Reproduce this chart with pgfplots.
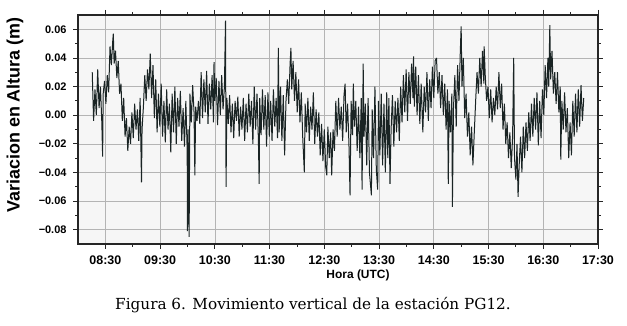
\documentclass[border=0pt]{standalone}
\usepackage{fontspec}
\setmainfont{Liberation Sans}
\newfontfamily\capfont{DejaVu Serif}
\usepackage{pgfplots}
\pgfplotsset{compat=1.18}

\definecolor{trace}{HTML}{1A2424}
\definecolor{plotbg}{HTML}{F6F6F6}
\definecolor{gridc}{HTML}{B4B4B4}

\begin{document}
\begin{tikzpicture}
\useasboundingbox (0,0) rectangle (627bp,326bp);
\begin{axis}[
    at={(78bp,82bp)}, anchor=south west,
    scale only axis, width=520bp, height=229bp,
    xmin=8, xmax=17.5, ymin=-0.09, ymax=0.07,
    scaled y ticks=false, scaled x ticks=false,
    xtick={8.5,9.5,10.5,11.5,12.5,13.5,14.5,15.5,16.5,17.5},
    xticklabels={08:30,09:30,10:30,11:30,12:30,13:30,14:30,15:30,16:30,17:30},
    ytick={-0.08,-0.06,-0.04,-0.02,0,0.02,0.04,0.06},
    yticklabels={−0.08,−0.06,−0.04,−0.02,0.00,0.02,0.04,0.06},
    minor x tick num=1, minor y tick num=1,
    tick align=outside, tick pos=both,
    major tick length=5bp, minor tick length=3bp,
    every tick/.style={black!85, line width=0.8bp},
    axis line style={black!85, line width=1.3bp},
    grid=major, grid style={gridc, line width=0.6bp},
    axis background/.style={fill=plotbg},
    xticklabel style={font=\bfseries\fontsize{12.5}{14}\selectfont, yshift=-3bp},
    yticklabel style={font=\bfseries\fontsize{11}{12}\selectfont, xshift=-3bp},
]
\addplot[trace, line width=1.0bp, line join=bevel, no marks] coordinates {
(8.26,0.030)(8.285,-0.004)(8.31,0.018)(8.335,0.000)(8.36,0.032)(8.385,0.005)(8.41,0.020)(8.435,-0.005)
(8.45,-0.029)(8.46,0.015)(8.485,0.024)(8.51,0.008)(8.535,0.028)(8.56,0.016)(8.585,0.048)(8.61,0.035)
(8.635,0.052)(8.645,0.057)(8.66,0.036)(8.685,0.045)(8.71,0.026)(8.735,0.038)(8.76,0.015)(8.785,0.022)
(8.81,-0.004)(8.835,0.012)(8.86,-0.015)(8.885,-0.002)(8.91,-0.025)(8.935,-0.008)(8.96,-0.020)(8.985,0.002)
(9.01,-0.016)(9.035,0.008)(9.06,-0.010)(9.085,0.004)(9.11,-0.018)(9.135,0.012)(9.16,-0.047)(9.17,-0.010)
(9.195,0.006)(9.22,0.028)(9.245,0.010)(9.27,0.032)(9.295,0.018)(9.32,0.043)(9.345,0.012)(9.37,0.035)
(9.395,-0.002)(9.42,0.025)(9.445,-0.012)(9.47,0.015)(9.495,-0.008)(9.52,0.022)(9.545,-0.015)(9.57,0.010)
(9.595,-0.019)(9.62,0.018)(9.645,-0.010)(9.67,0.008)(9.695,-0.026)(9.72,0.015)(9.745,-0.012)(9.77,0.020)
(9.795,-0.020)(9.82,0.012)(9.845,-0.008)(9.87,0.017)(9.895,-0.018)(9.92,0.005)(9.945,-0.022)(9.97,0.010)
(9.995,-0.025)(10.0,-0.081)(10.012,-0.010)(10.03,-0.085)(10.045,0.015)(10.07,-0.005)(10.095,0.021)(10.12,0.002)
(10.135,-0.042)(10.15,0.006)(10.175,-0.004)(10.2,0.010)(10.225,-0.006)(10.25,0.030)(10.275,-0.002)(10.3,0.025)
(10.325,0.002)(10.35,0.031)(10.375,-0.006)(10.4,0.022)(10.425,0.004)(10.45,0.028)(10.475,-0.005)(10.485,0.037)
(10.5,0.010)(10.525,0.026)(10.55,-0.007)(10.575,0.024)(10.6,0.000)(10.625,0.028)(10.65,0.004)(10.675,0.020)
(10.695,0.066)(10.705,-0.050)(10.72,0.012)(10.745,-0.006)(10.77,0.014)(10.795,-0.012)(10.82,0.008)(10.845,-0.016)
(10.87,0.010)(10.895,-0.004)(10.92,0.013)(10.945,-0.015)(10.97,0.006)(10.995,-0.010)(11.02,0.012)(11.045,-0.018)
(11.07,0.008)(11.095,-0.012)(11.12,0.015)(11.145,-0.008)(11.17,0.010)(11.195,-0.020)(11.22,0.020)(11.245,-0.010)
(11.27,0.015)(11.295,-0.016)(11.31,-0.048)(11.32,0.012)(11.345,-0.014)(11.37,0.018)(11.395,-0.010)(11.42,0.014)
(11.445,-0.022)(11.47,0.016)(11.495,-0.015)(11.52,0.010)(11.545,-0.018)(11.57,0.018)(11.595,-0.008)(11.62,0.012)
(11.645,-0.016)(11.66,0.047)(11.675,-0.012)(11.7,0.020)(11.725,-0.018)(11.75,0.014)(11.775,-0.028)(11.8,0.010)
(11.825,0.025)(11.85,0.008)(11.875,0.036)(11.89,0.047)(11.905,0.018)(11.93,0.038)(11.955,0.010)(11.98,0.030)
(12.005,0.002)(12.03,0.025)(12.055,-0.005)(12.08,0.016)(12.105,-0.015)(12.135,-0.040)(12.15,0.008)(12.175,-0.012)
(12.2,0.012)(12.225,-0.018)(12.25,0.006)(12.275,-0.010)(12.3,0.016)(12.325,-0.020)(12.35,0.004)(12.375,-0.015)
(12.4,0.002)(12.425,-0.028)(12.45,-0.006)(12.475,-0.032)(12.5,-0.010)(12.525,-0.036)(12.545,-0.042)(12.565,-0.008)
(12.59,-0.030)(12.615,-0.012)(12.635,-0.042)(12.66,-0.010)(12.685,-0.025)(12.71,0.010)(12.735,-0.015)(12.76,0.012)
(12.785,-0.010)(12.81,0.006)(12.835,-0.018)(12.86,0.014)(12.88,0.022)(12.9,-0.012)(12.925,0.008)(12.95,-0.020)
(12.97,-0.056)(12.99,0.010)(13.015,-0.014)(13.03,0.022)(13.05,-0.008)(13.075,0.010)(13.1,-0.025)(13.125,0.006)
(13.15,-0.030)(13.175,0.012)(13.19,-0.052)(13.21,0.036)(13.225,-0.015)(13.25,0.008)(13.275,-0.035)(13.3,0.012)
(13.325,-0.040)(13.36,-0.056)(13.375,0.004)(13.4,-0.030)(13.425,0.020)(13.45,-0.038)(13.475,-0.052)(13.49,0.010)
(13.515,-0.028)(13.54,0.015)(13.565,-0.035)(13.59,0.008)(13.615,-0.040)(13.64,0.016)(13.66,-0.030)(13.68,0.012)
(13.7,-0.048)(13.72,-0.010)(13.745,0.014)(13.77,-0.022)(13.795,0.010)(13.82,-0.012)(13.845,0.012)(13.87,-0.018)
(13.895,0.020)(13.92,-0.005)(13.945,0.028)(13.97,0.002)(13.995,0.032)(14.02,-0.004)(14.045,0.030)(14.07,0.008)
(14.095,0.036)(14.12,0.012)(14.13,0.041)(14.145,0.006)(14.17,0.034)(14.195,0.000)(14.22,0.028)(14.245,-0.006)
(14.27,0.022)(14.3,-0.012)(14.325,0.020)(14.35,0.002)(14.375,0.030)(14.4,-0.004)(14.425,0.025)(14.45,0.005)
(14.475,0.034)(14.5,0.012)(14.525,0.038)(14.55,0.040)(14.575,0.015)(14.6,0.030)(14.625,0.005)(14.65,0.028)
(14.675,0.000)(14.7,0.022)(14.725,-0.010)(14.75,0.018)(14.765,-0.048)(14.78,0.010)(14.805,-0.012)(14.83,0.015)
(14.84,-0.064)(14.86,0.005)(14.885,0.028)(14.91,-0.008)(14.935,0.035)(14.96,0.010)(14.985,0.045)(15.0,0.062)
(15.015,0.020)(15.04,0.040)(15.065,-0.002)(15.09,0.015)(15.115,-0.015)(15.14,0.002)(15.165,-0.028)(15.19,-0.008)
(15.215,-0.035)(15.24,-0.012)(15.265,0.010)(15.29,0.030)(15.315,0.015)(15.34,0.040)(15.365,0.020)(15.39,0.045)
(15.415,0.022)(15.42,0.048)(15.44,0.028)(15.465,0.010)(15.49,0.020)(15.515,-0.002)(15.54,0.018)(15.565,-0.005)
(15.59,0.012)(15.615,0.000)(15.64,0.020)(15.665,0.004)(15.69,0.030)(15.715,0.005)(15.74,0.022)(15.765,-0.010)
(15.79,0.008)(15.815,-0.020)(15.84,-0.005)(15.865,-0.030)(15.89,-0.012)(15.915,-0.037)(15.94,-0.015)(15.96,0.040)
(15.975,-0.030)(16.0,-0.045)(16.02,-0.020)(16.04,-0.057)(16.06,-0.035)(16.085,-0.015)(16.11,-0.040)(16.135,-0.008)
(16.16,-0.030)(16.185,-0.005)(16.21,-0.025)(16.235,0.002)(16.26,-0.018)(16.285,0.008)(16.31,-0.015)(16.335,0.012)
(16.36,-0.010)(16.385,0.016)(16.41,-0.021)(16.435,0.010)(16.46,-0.016)(16.485,0.018)(16.51,0.000)(16.535,0.035)
(16.56,0.012)(16.585,0.040)(16.6,0.020)(16.62,0.063)(16.635,0.025)(16.66,0.045)(16.685,0.015)(16.71,0.030)
(16.735,0.008)(16.76,0.030)(16.785,0.002)(16.81,0.020)(16.82,-0.031)(16.84,0.010)(16.865,-0.010)(16.89,0.016)
(16.915,-0.012)(16.94,0.005)(16.965,-0.030)(16.99,-0.005)(17.015,-0.028)(17.04,0.010)(17.065,-0.015)(17.09,0.015)
(17.115,-0.012)(17.14,0.018)(17.165,-0.008)(17.19,0.021)(17.215,-0.004)(17.24,0.012)
};
\end{axis}
\node[rotate=90, font=\bfseries\fontsize{18}{20}\selectfont] at (15bp,211bp) {Variacion en Altura (m)};
\node[font=\bfseries\fontsize{12}{14}\selectfont] at (358bp,51bp) {Hora (UTC)};
\node[font=\capfont\fontsize{15.3}{18}\selectfont] at (313bp,21bp) {Figura 6. Movimiento vertical de la estación PG12.};
\end{tikzpicture}
\end{document}
